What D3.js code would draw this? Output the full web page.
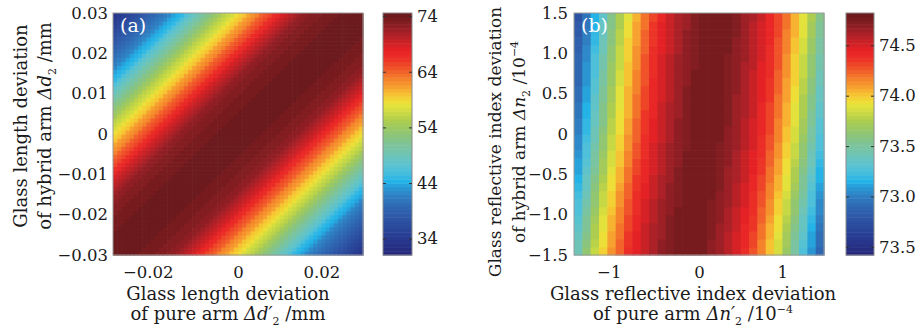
<!DOCTYPE html>
<html>
<head>
<meta charset="utf-8">
<script src="https://cdn.jsdelivr.net/npm/d3@7"></script>
<style>
  body { margin: 0; background: #fff; }
  text { font-family: "DejaVu Serif", serif; fill: #1a1a1a; }
</style>
</head>
<body>
<svg id="fig" width="918" height="331"></svg>
<script>
// ---- panel (a): glass length deviation (mm) ----
const aXTicks = [-0.02, 0, 0.02];
const aYTicks = [-0.03, -0.02, -0.01, 0, 0.01, 0.02, 0.03];
const aBarTicks = [34, 44, 54, 64, 74];
// value vs |Δd2' - Δd2| in steps of 0.001 mm (the map is constant along diagonals)
const aProfile = [
  74.6, 74.6, 74.5, 74.5, 74.4, 74.3, 74.2, 74.0, 73.8, 73.6,
  73.4, 73.2, 73.0, 72.7, 72.3, 71.8, 71.2, 70.5, 69.7, 68.8,
  67.9, 66.9, 65.9, 64.9, 63.9, 62.9, 62.0, 61.1, 60.2, 59.3,
  58.5, 57.6, 56.7, 55.8, 54.8, 53.8, 52.8, 51.7, 50.6, 49.5,
  48.4, 47.3, 46.2, 45.1, 44.1, 43.2, 42.4, 41.6, 40.9, 40.2,
  39.5, 38.8, 38.1, 37.4, 36.7, 36.0, 35.3, 34.6, 34.0, 33.4
];

// ---- panel (b): glass refractive index deviation (1e-4) ----
const bXTicks = [-1, 0, 1];
const bYTicks = [-1.5, -1.0, -0.5, 0, 0.5, 1.0, 1.5];
const bBarTicks = [72.5, 73.0, 73.5, 74.0, 74.5];
const bBarLabels = ["73.5", "73.0", "73.5", "74.0", "74.5"];
// value vs distance from the ridge, steps of 0.1
const bProfile = [74.80, 74.79, 74.76, 74.71, 74.65, 74.58, 74.50, 74.40, 74.28, 74.14,
                  74.00, 73.84, 73.65, 73.45, 73.24, 73.04, 72.86, 72.70, 72.56];
// ridge position (Δn2') for each row, bottom to top
const bRidge = [-0.14, -0.125, -0.11, -0.095, -0.08, -0.065, -0.05, -0.035, -0.02, -0.005,
                0.01, 0.025, 0.04, 0.05, 0.06, 0.075, 0.085, 0.095, 0.10, 0.11,
                0.12, 0.13, 0.135, 0.145, 0.15, 0.16, 0.17, 0.18, 0.19, 0.20];

// colormap (bottom -> top of colour bar)
const cmapPos = [0, 0.062, 0.124, 0.186, 0.236, 0.277, 0.30, 0.343, 0.393, 0.442, 0.496, 0.55,
                 0.60, 0.628, 0.661, 0.694, 0.731, 0.773, 0.814, 0.855, 0.897, 0.93, 0.963, 1];
const cmapCol = ["#25297c", "#283a8f", "#2c4d9f", "#2f64b1", "#2f7cc0", "#2a9ad6", "#22b2e7",
                 "#4cc0dc", "#66c4c3", "#79c4a4", "#8cc47a", "#a8cb52", "#d2dc40", "#ebe43a",
                 "#f6c932", "#f7a530", "#f4822c", "#f0582a", "#ec3127", "#e62226", "#c12126",
                 "#a22127", "#861d22", "#6c1a1d"];
const cmap = d3.scaleLinear().domain(cmapPos).range(cmapCol).interpolate(d3.interpolateRgb);
const nLevels = 64;
const level = t => Math.round(Math.max(0, Math.min(1, t)) * (nLevels - 1)) / (nLevels - 1);

const svg = d3.select('#fig');
const plotTop = 13, h = 242, w = 250;

function drawPanel(o) {
  const g = svg.append('g');
  const x = d3.scaleLinear().domain(o.xDomain).range([o.left, o.left + w]);
  const y = d3.scaleLinear().domain(o.yDomain).range([plotTop + h, plotTop]);
  const t = d3.scaleLinear().domain(o.vDomain).range([0, 1]);

  // cells
  g.append('g').selectAll('rect')
    .data(o.cells)
    .join('rect')
    .attr('x', d => x(d.x0))
    .attr('y', d => y(d.y0 + o.dy))
    .attr('width', x(o.xDomain[0] + o.dx) - x(o.xDomain[0]) + 0.6)
    .attr('height', y(o.yDomain[0]) - y(o.yDomain[0] + o.dy) + 0.6)
    .attr('fill', d => cmap(level(t(d.v))));

  g.append('rect')
    .attr('x', o.left).attr('y', plotTop).attr('width', w).attr('height', h)
    .attr('fill', 'none').attr('stroke', '#9a9a9a').attr('stroke-width', 1);

  // axes
  const xa = g.append('g')
    .attr('transform', `translate(0,${plotTop + h})`)
    .call(d3.axisBottom(x).tickValues(o.xTicks).tickSize(0).tickPadding(11)
      .tickFormat(o.xFmt));
  xa.select('.domain').remove();
  xa.selectAll('text').attr('font-size', 16.5).attr('font-family', '"DejaVu Serif", serif')
    .attr('dx', d => d < 0 ? '-0.42em' : 0);

  const ya = g.append('g')
    .attr('transform', `translate(${o.left},0)`)
    .call(d3.axisLeft(y).tickValues(o.yTicks).tickSize(0).tickPadding(o.yPad)
      .tickFormat(o.yFmt));
  ya.select('.domain').remove();
  ya.selectAll('text').attr('font-size', 16.5).attr('font-family', '"DejaVu Serif", serif');

  // panel tag
  g.append('text').attr('x', o.left + 7).attr('y', plotTop + 19)
    .attr('font-size', 19).style('fill', '#fff').text(o.tag);

  // colour bar
  const cy = d3.scaleLinear().domain(o.vDomain).range([plotTop + h, plotTop]);
  const bands = d3.range(nLevels);
  const bandH = h / nLevels;
  g.append('g').selectAll('rect')
    .data(bands)
    .join('rect')
    .attr('x', o.barX)
    .attr('y', i => plotTop + h - (i + 1) * bandH)
    .attr('width', o.barW)
    .attr('height', bandH + 0.5)
    .attr('fill', i => cmap(i / (nLevels - 1)));
  g.append('rect')
    .attr('x', o.barX).attr('y', plotTop).attr('width', o.barW).attr('height', h)
    .attr('fill', 'none').attr('stroke', '#8a8a8a').attr('stroke-width', 1);

  const ca = g.append('g')
    .attr('transform', `translate(${o.barX + o.barW},0)`)
    .call(d3.axisRight(cy).tickValues(o.barTicks).tickSize(-3).tickPadding(5)
      .tickFormat(o.barFmt));
  ca.select('.domain').remove();
  ca.selectAll('line').attr('stroke', '#333');
  ca.selectAll('text').attr('font-size', 16.5).attr('font-family', '"DejaVu Serif", serif');
  const cl = g.append('g')
    .attr('transform', `translate(${o.barX},0)`)
    .call(d3.axisLeft(cy).tickValues(o.barTicks).tickSize(-3).tickFormat(''));
  cl.select('.domain').remove();
  cl.selectAll('line').attr('stroke', '#333');

  // axis titles
  const xt = g.append('text').attr('text-anchor', 'middle').attr('font-size', 18);
  xt.append('tspan').attr('x', o.xTitleX).attr('y', 300).text(o.xTitle1);
  const xl2 = xt.append('tspan').attr('x', o.xTitleX).attr('y', 320);
  o.xTitle2(xl2);

  const yt = g.append('text').attr('text-anchor', 'middle').attr('font-size', o.yTitleSize)
    .attr('transform', `translate(0,${o.yTitleY}) rotate(-90)`);
  yt.append('tspan').attr('x', 0).attr('y', o.yTitleX1).text(o.yTitle1);
  const yl2 = yt.append('tspan').attr('x', 0).attr('y', o.yTitleX2);
  o.yTitle2(yl2);
}

function mathLabel(prefix, sym, prime, unit, sup) {
  return sel => {
    sel.text(prefix);
    const p = d3.select(sel.node().parentNode);
    p.append('tspan').style('font-style', 'italic').text('\u0394' + sym + (prime ? '\u2032' : ''));
    p.append('tspan').attr('font-size', 11).attr('dy', 5).text('2');
    p.append('tspan').attr('dy', -5).text(unit);
    if (sup) p.append('tspan').attr('font-size', 11).attr('dy', -7).text(sup);
  };
}

const minus = s => s.replace('-', '\u2212');

// panel (a) cells
const aStep = 0.001, aN = 60;
const aCells = [];
for (let j = 0; j < aN; j++) for (let i = 0; i < aN; i++) {
  aCells.push({ x0: -0.03 + i * aStep, y0: -0.03 + j * aStep, v: aProfile[Math.abs(i - j)] });
}

// panel (b) cells
const bStep = 0.1, bN = 30;
const bCells = [];
for (let j = 0; j < bN; j++) for (let i = 0; i < bN; i++) {
  const xc = -1.5 + (i + 0.5) * bStep;
  const r = Math.abs(xc - bRidge[j]) / bStep;
  const k = Math.min(Math.floor(r), bProfile.length - 2);
  const f = r - k;
  bCells.push({ x0: -1.5 + i * bStep, y0: -1.5 + j * bStep,
                v: bProfile[k] * (1 - f) + bProfile[k + 1] * f });
}

drawPanel({
  left: 113, xDomain: [-0.03, 0.03], yDomain: [-0.03, 0.03], vDomain: [31.07, 74.55],
  dx: aStep, dy: aStep, cells: aCells, tag: '(a)',
  xTicks: aXTicks, yTicks: aYTicks, yPad: 5,
  xFmt: d => d === 0 ? '0' : minus(d3.format('.2f')(d)),
  yFmt: d => d === 0 ? '0' : minus(d3.format('.2f')(d)),
  barX: 383, barW: 29, barTicks: aBarTicks, barFmt: d => String(d),
  xTitleX: 228, xTitle1: 'Glass length deviation',
  xTitle2: mathLabel('of pure arm ', 'd', true, ' /mm'),
  yTitleY: 126, yTitleX1: 27, yTitleX2: 51, yTitleSize: 18,
  yTitle1: 'Glass length deviation',
  yTitle2: mathLabel('of hybrid arm ', 'd', false, ' /mm')
});

drawPanel({
  left: 574, xDomain: [-1.5, 1.5], yDomain: [-1.5, 1.5], vDomain: [72.42, 74.82],
  dx: bStep, dy: bStep, cells: bCells, tag: '(b)',
  xTicks: bXTicks, yTicks: bYTicks, yPad: 6,
  xFmt: d => minus(String(d)),
  yFmt: d => d === 0 ? '0' : minus(d3.format('.1f')(d)),
  barX: 846, barW: 28, barTicks: bBarTicks, barFmt: (d, i) => bBarLabels[i],
  xTitleX: 693, xTitle1: 'Glass reflective index deviation',
  xTitle2: mathLabel('of pure arm ', 'n', true, ' /10', '\u22124'),
  yTitleY: 142, yTitleX1: 501, yTitleX2: 525, yTitleSize: 17,
  yTitle1: 'Glass reflective index deviation',
  yTitle2: mathLabel('of hybrid arm ', 'n', false, ' /10', '\u22124')
});
</script>
</body>
</html>
